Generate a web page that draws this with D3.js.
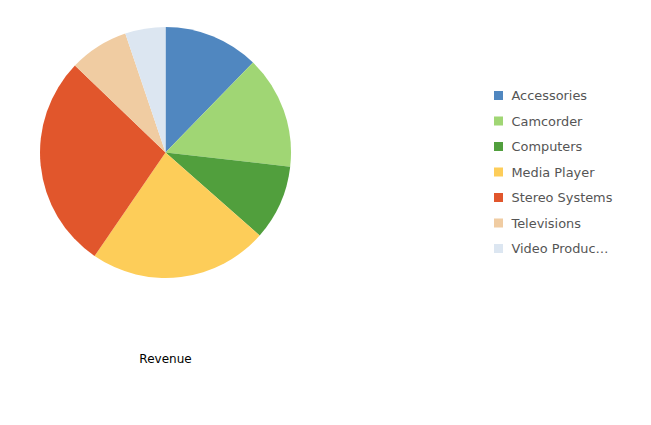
<!DOCTYPE html>
<html><head><meta charset="utf-8">
<script src="https://cdn.jsdelivr.net/npm/d3@7"></script>
<style>body{margin:0;background:#fff}svg{display:block}</style>
</head><body>
<script>
const categories = ["Accessories","Camcorder","Computers","Media Player","Stereo Systems","Televisions","Video Production"];
const revenue = [1228, 1453, 969, 2306, 2761, 764, 519];
const colors = ["#5087c0","#a0d674","#519f3d","#fdcd59","#e1562c","#f0cca2","#dce6f1"];
const seriesTitle = "Revenue";

const W = 651, H = 425;
const svg = d3.select("body").append("svg").attr("width", W).attr("height", H);
const cx = 165.5, cy = 152.5, r = 125.5;
const data = categories.map((c, i) => ({cat: c, value: revenue[i], color: colors[i]}));
const pie = d3.pie().sort(null).value(d => d.value);
const arc = d3.arc().innerRadius(0).outerRadius(r);
svg.append("g").attr("transform", `translate(${cx},${cy})`)
  .selectAll("path").data(pie(data)).join("path")
  .attr("d", arc).attr("fill", d => d.data.color);

svg.append("text").attr("x", cx).attr("y", 362.5).attr("text-anchor", "middle")
  .attr("font-family", "DejaVu Sans").attr("font-size", 12).attr("fill", "#000").text(seriesTitle);

const lg = svg.append("g");
const rowY = d3.scaleLinear().domain([0, categories.length - 1]).range([95.5, 248.5]);
data.forEach((d, i) => {
  const y = rowY(i);
  lg.append("rect").attr("x", 494).attr("y", y - 4.5).attr("width", 9).attr("height", 9).attr("fill", d.color);
  lg.append("text").attr("x", 511.5).attr("y", y).attr("dy", "0.35em")
    .attr("font-family", "DejaVu Sans").attr("font-size", 12.9).attr("fill", "#555")
    .text(d.cat === "Video Production" ? "Video Produc…" : d.cat);
});
</script>
</body></html>
